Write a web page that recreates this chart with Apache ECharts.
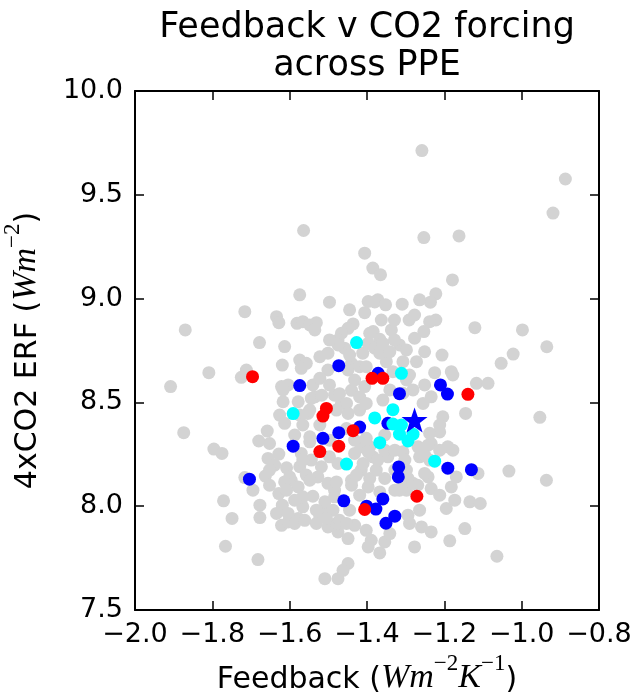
<!DOCTYPE html>
<html>
<head>
<meta charset="utf-8">
<script src="https://cdn.jsdelivr.net/npm/echarts@6/dist/echarts.min.js"></script>
<style>
html,body{margin:0;padding:0;background:#fff;}
#chart{width:635px;height:693px;}
</style>
</head>
<body>
<div id="chart"></div>
<script>
const titleText = 'Feedback v CO2 forcing\nacross PPE';
const xTicks = [-2.0, -1.8, -1.6, -1.4, -1.2, -1.0, -0.8];
const yTicks = [7.5, 8.0, 8.5, 9.0, 9.5, 10.0];

const grayPoints = [
[-1.258,9.713],[-0.887,9.576],[-0.919,9.412],[-1.564,9.328],[-1.253,9.294],[-1.162,9.302],
[-1.406,9.219],[-1.385,9.147],[-1.365,9.115],[-1.179,9.090],[-1.222,9.023],[-1.236,8.983],
[-1.574,9.018],[-1.497,8.983],[-1.716,8.937],[-1.634,8.913],[-1.628,8.884],[-1.581,8.881],
[-1.566,8.889],[-1.548,8.873],[-1.531,8.884],[-1.535,8.849],[-1.870,8.849],[-1.678,8.788],
[-1.613,8.769],[-1.436,8.878],[-1.449,8.857],[-1.466,8.833],[-1.475,8.801],[-1.458,8.761],
[-1.406,8.932],[-1.397,8.986],[-1.522,8.720],[-1.501,8.737],[-1.574,8.704],[-1.557,8.688],
[-1.570,8.664],[-1.619,8.680],[-1.440,8.688],[-1.449,8.656],[-1.809,8.643],[-1.712,8.656],
[-1.501,8.656],[-1.411,8.737],[-1.372,8.994],[-1.380,8.984],[-1.352,8.970],[-1.309,8.973],
[-1.363,8.897],[-1.291,8.897],[-1.222,8.897],[-1.337,8.849],[-1.384,8.841],[-1.367,8.804],
[-1.397,8.784],[-1.253,8.841],[-1.277,8.809],[-1.121,8.860],[-0.998,8.849],[-1.316,8.777],
[-1.298,8.753],[-1.251,8.744],[-1.206,8.728],[-1.022,8.733],[-1.053,8.688],[-0.935,8.768],
[-1.350,8.696],[-1.307,8.696],[-1.272,8.696],[-1.225,8.643],[-1.182,8.648],[-1.178,8.632],
[-1.117,8.592],[-1.087,8.592],[-1.145,8.447],[-0.953,8.428],[-1.204,8.431],[-1.212,8.358],
[-1.191,8.286],[-1.178,8.270],[-1.234,8.302],[-1.264,8.238],[-1.169,8.141],[-1.182,8.093],
[-1.113,8.158],[-1.033,8.169],[-0.936,8.125],[-1.242,8.141],[-1.234,8.085],[-1.134,8.021],
[-1.107,8.013],[-1.195,7.989],[-1.264,7.981],[-1.294,7.957],[-1.290,7.917],[-1.259,7.900],
[-1.234,7.876],[-1.147,7.892],[-1.186,7.833],[-1.277,7.804],[-1.064,7.759],[-1.402,7.884],
[-1.389,7.836],[-1.367,7.775],[-1.354,7.828],[-1.341,7.868],[-1.908,8.576],[-1.725,8.621],
[-1.874,8.354],[-1.796,8.275],[-1.775,8.254],[-1.658,8.362],[-1.680,8.314],[-1.652,8.302],
[-1.656,8.230],[-1.628,8.251],[-1.608,8.185],[-1.716,8.138],[-1.695,8.077],[-1.663,8.145],
[-1.652,8.101],[-1.628,8.061],[-1.771,8.026],[-1.677,8.005],[-1.677,7.945],[-1.749,7.941],
[-1.619,8.005],[-1.766,7.807],[-1.682,7.743],[-1.621,7.908],[-1.604,7.924],[-1.566,7.997],
[-1.578,7.941],[-1.540,8.048],[-1.596,8.125],[-1.578,8.093],[-1.522,7.948],[-1.505,7.973],
[-1.501,7.900],[-1.475,7.876],[-1.449,7.844],[-1.397,7.804],[-1.449,7.724],[-1.462,7.691],
[-1.475,7.651],[-1.509,7.651],[-1.617,8.503],[-1.626,8.439],[-1.621,8.576],[-1.604,8.584],
[-1.578,8.503],[-1.553,8.447],[-1.535,8.527],[-1.484,8.535],[-1.466,8.495],[-1.548,8.310],
[-1.570,8.254],[-1.574,8.190],[-1.544,8.222],[-1.527,8.141],[-1.501,8.110],[-1.484,8.077],
[-1.518,8.190],[-1.440,8.125],[-1.415,8.174],[-1.397,8.093],[-1.432,8.254],[-1.415,8.286],
[-1.475,8.777],[-1.393,8.833],[-1.380,8.761],[-1.359,8.785],[-1.445,8.728],[-1.419,8.672],
[-1.367,8.737],[-1.333,8.648],[-1.617,8.560],[-1.540,8.584],[-1.522,8.616],[-1.544,8.519],
[-1.471,8.542],[-1.440,8.558],[-1.419,8.526],[-1.453,8.495],[-1.479,8.463],[-1.449,8.447],
[-1.419,8.463],[-1.402,8.495],[-1.548,8.463],[-1.574,8.439],[-1.359,8.511],[-1.341,8.560],
[-1.238,8.889],[-1.341,8.744],[-1.402,8.672],[-1.406,8.576],[-1.298,8.608],[-1.281,8.560],
[-1.307,8.544],[-1.255,8.495],[-1.234,8.527],[-1.613,8.399],[-1.566,8.391],[-1.548,8.334],
[-1.639,8.198],[-1.600,8.141],[-1.566,8.222],[-1.557,8.150],[-1.613,8.117],[-1.608,8.077],
[-1.634,7.965],[-1.604,7.965],[-1.566,8.045],[-1.509,8.021],[-1.531,7.917],[-1.479,7.917],
[-1.488,7.981],[-1.484,8.045],[-1.432,7.908],[-1.479,8.117],[-1.440,8.101],[-1.427,8.150],
[-1.393,8.134],[-1.376,8.174],[-1.410,8.206],[-1.385,8.238],[-1.346,8.238],[-1.393,8.286],
[-1.497,8.238],[-1.475,8.206],[-1.453,8.374],[-1.402,8.327],[-1.397,8.262],[-1.354,8.270],
[-1.372,8.222],[-1.307,8.262],[-1.268,8.286],[-1.242,8.294],[-1.238,8.351],[-1.212,8.391],
[-1.298,8.174],[-1.251,8.158],[-1.294,8.134],[-1.298,8.077],[-1.354,8.134],[-1.367,8.069],
[-1.587,7.917],[-1.561,7.932],[-1.531,7.981],[-1.505,7.941],[-1.471,7.932],[-1.453,7.917],
[-1.354,8.343],[-1.432,8.318],[-1.328,8.270],[-1.238,8.222],[-1.522,8.391],[-1.497,8.318],
[-1.307,8.110],[-1.281,8.110],[-1.316,8.077],
[-1.497,8.584],[-1.517,8.535],[-1.328,8.174],[-1.302,8.222],[-1.251,8.246],[-1.212,8.270],
[-1.269,8.101],[-1.212,8.053],[-1.173,8.029],[-1.328,8.077],[-1.419,8.053],[-1.445,7.981],
[-1.548,8.125],[-1.587,8.029],[-1.652,8.174],[-1.329,8.897],[-1.277,8.921],[-1.445,8.946],
[-1.264,8.994],[-1.290,8.632],[-1.251,8.584],[-1.497,8.801],[-1.329,8.801],[-1.432,8.608],
[-1.587,8.343]
];

const bluePoints = [
[-1.704,8.130],[-1.574,8.581],[-1.473,8.677],[-1.371,8.640],[-1.316,8.542],[-1.210,8.584],
[-1.192,8.540],[-1.591,8.289],[-1.514,8.327],[-1.473,8.354],[-1.419,8.381],[-1.346,8.399],
[-1.318,8.189],[-1.319,8.141],[-1.191,8.183],[-1.130,8.176],[-1.460,8.026],[-1.359,8.035],
[-1.377,7.986],[-1.401,8.000],[-1.328,7.952],[-1.351,7.918]
];

const redPoints = [
[-1.696,8.624],[-1.505,8.471],[-1.514,8.434],[-1.436,8.364],[-1.473,8.289],[-1.522,8.263],
[-1.406,7.984],[-1.387,8.616],[-1.359,8.616],[-1.139,8.539],[-1.271,8.048]
];

const cyanPoints = [
[-1.427,8.788],[-1.591,8.446],[-1.311,8.640],[-1.333,8.465],[-1.380,8.425],[-1.367,8.306],
[-1.453,8.203],[-1.333,8.396],[-1.311,8.391],[-1.316,8.347],[-1.294,8.314],[-1.281,8.347],
[-1.225,8.217]
];

const starPoints = [[-1.277,8.415]];

const starPath = 'path://M0,-10L2.35,-3.24L9.51,-3.09L3.8,1.24L5.88,8.09L0,4L-5.88,8.09L-3.8,1.24L-9.51,-3.09L-2.35,-3.24Z';

const chart = echarts.init(document.getElementById('chart'), null, {renderer: 'canvas'});

const fmtX = v => v.toFixed(1).replace('-', '\u2212');
const fmtY = v => v.toFixed(1);

const nameRich = {
  n: {fontFamily: 'DejaVu Sans', fontSize: 30, color: '#000', lineHeight: 42, verticalAlign: 'bottom'},
  m: {fontFamily: 'Liberation Serif', fontStyle: 'italic', fontSize: 34, color: '#000', lineHeight: 42, verticalAlign: 'bottom'},
  s: {fontFamily: 'Liberation Serif', fontSize: 23, color: '#000', lineHeight: 23, verticalAlign: 'top'}
};

const axisCommon = {
  axisLine: {show: true, onZero: false, lineStyle: {color: '#000', width: 2}},
  axisTick: {show: true, inside: true, length: 9, lineStyle: {color: '#000', width: 1.5}},
  splitLine: {show: false}
};

const option = {
  animation: false,
  backgroundColor: '#fff',
  graphic: [{
    type: 'text',
    x: 367, y: 9,
    style: {
      text: titleText,
      font: '35px "DejaVu Sans"',
      fill: '#000',
      align: 'center',
      verticalAlign: 'top',
      lineHeight: 38
    }
  }],
  grid: {left: 135, top: 91, right: 36, bottom: 83, containLabel: false, outerBoundsMode: 'none'},
  xAxis: [
    Object.assign({
      type: 'value', position: 'bottom', min: xTicks[0], max: xTicks[xTicks.length - 1], interval: 0.2,
      axisLabel: {show: true, formatter: fmtX, fontFamily: 'DejaVu Sans', fontSize: 27, color: '#000', margin: 11},
      name: '{n|Feedback (}{m|Wm}{s|\u22122}{m|K}{s|\u22121}{n|)}',
      nameLocation: 'middle', nameGap: 34,
      nameTextStyle: {rich: nameRich}
    }, axisCommon),
    Object.assign({
      type: 'value', position: 'top', min: xTicks[0], max: xTicks[xTicks.length - 1], interval: 0.2,
      axisLabel: {show: false}
    }, axisCommon)
  ],
  yAxis: [
    Object.assign({
      type: 'value', position: 'left', min: yTicks[0], max: yTicks[yTicks.length - 1], interval: 0.5,
      axisLabel: {show: true, formatter: fmtY, fontFamily: 'DejaVu Sans', fontSize: 27, color: '#000', margin: 12},
      name: '{n|4xCO2 ERF (}{m|Wm}{s|\u22122}{n|)}',
      nameLocation: 'middle', nameGap: 92,
      nameTextStyle: {rich: nameRich}
    }, axisCommon),
    Object.assign({
      type: 'value', position: 'right', min: yTicks[0], max: yTicks[yTicks.length - 1], interval: 0.5,
      axisLabel: {show: false}
    }, axisCommon)
  ],
  series: [
    {type: 'scatter', data: grayPoints, symbol: 'circle', symbolSize: 13,
     itemStyle: {color: '#d3d3d3', opacity: 1}, silent: true, z: 2},
    {type: 'scatter', data: bluePoints, symbol: 'circle', symbolSize: 13,
     itemStyle: {color: '#0000ff', opacity: 1}, silent: true, z: 3},
    {type: 'scatter', data: redPoints, symbol: 'circle', symbolSize: 13,
     itemStyle: {color: '#ff0000', opacity: 1}, silent: true, z: 4},
    {type: 'scatter', data: cyanPoints, symbol: 'circle', symbolSize: 13,
     itemStyle: {color: '#00ffff', opacity: 1}, silent: true, z: 5},
    {type: 'scatter', data: starPoints, symbol: starPath, symbolSize: [26, 25],
     itemStyle: {color: '#0000ff', opacity: 1}, silent: true, z: 6}
  ]
};

chart.setOption(option);
</script>
</body>
</html>
